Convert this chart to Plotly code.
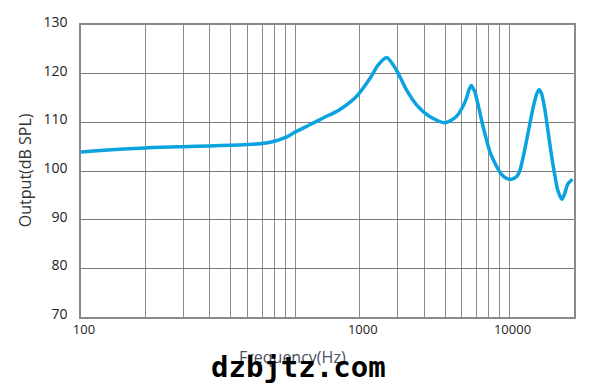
import plotly.graph_objects as go

# Frequency response
freq_hz = [100, 123, 200, 300, 400, 500, 600, 700, 800, 900, 1000, 1170, 1350,
           1610, 1930, 2230, 2440, 2670, 2960, 3300, 3680, 4240, 5000, 5650,
           6070, 6300, 6470, 6640, 6760, 6900, 7010, 7260, 7520, 7800, 8080,
           8380, 8690, 9170, 9670, 10200, 10770, 11160, 11560, 11990, 12420,
           12870, 13350, 13730, 14080, 14590, 15130, 15680, 16250, 16840, 17570,
           18050, 18700, 19660]
spl_db = [103.9, 104.2, 104.75, 105.0, 105.15, 105.3, 105.45, 105.65, 106.1, 106.9,
          108.0, 109.5, 110.9, 112.6, 115.3, 119.0, 121.8, 123.3, 120.8, 116.7,
          113.6, 111.2, 109.9, 111.2, 113.3, 115.0, 116.7, 117.55, 117.0, 116.2,
          115.0, 112.2, 109.2, 106.5, 104.1, 102.4, 101.0, 99.3, 98.5, 98.3,
          98.8, 100.0, 102.7, 106.1, 109.5, 112.9, 115.65, 116.7, 116.0, 112.9,
          108.2, 103.4, 99.3, 95.9, 94.2, 95.2, 97.3, 98.3]

# Axis ticks
x_grid = [100, 200, 300, 400, 500, 600, 700, 800, 900,
          1000, 2000, 3000, 4000, 5000, 6000, 7000, 8000, 9000, 10000, 20000]
x_label_vals = [100, 2000, 10000]
x_label_text = ["100", "1000", "10000"]
y_ticks = [70, 80, 90, 100, 110, 120, 130]

fig = go.Figure()
fig.add_trace(go.Scatter(
    x=freq_hz, y=spl_db, mode="lines",
    line=dict(color="#0AA3E0", width=3.5, shape="spline", smoothing=0.7),
    hoverinfo="skip", showlegend=False,
))

fig.update_layout(
    width=601, height=389,
    margin=dict(l=81, r=27, t=23, b=72),
    paper_bgcolor="white", plot_bgcolor="white",
    font=dict(family="Open Sans", color="#222222"),
    xaxis=dict(
        type="log", range=[2, 4.30103],
        tickmode="array", tickvals=x_label_vals, ticktext=x_label_text,
        showgrid=False, ticks="", ticklabelshift=3,
        tickfont=dict(size=13, color="#222222"),
        showline=True, linecolor="#8a8a8a", linewidth=1.5, mirror=True,
        zeroline=False,
        minor=dict(tickmode="array", tickvals=x_grid, showgrid=True,
                   gridcolor="#8c8c8c", gridwidth=1, ticks=""),
    ),
    yaxis=dict(
        range=[70, 130], tickmode="array", tickvals=y_ticks,
        showgrid=True, gridcolor="#7a7a7a", gridwidth=1,
        ticks="", ticklabelstandoff=9, ticklabelshift=-3,
        tickfont=dict(size=14, color="#222222"),
        showline=True, linecolor="#8a8a8a", linewidth=1.5, mirror=True,
        zeroline=False,
    ),
)

fig.add_annotation(
    text="Output(dB SPL)", xref="paper", yref="paper",
    x=-0.1135, y=0.503, textangle=-90, showarrow=False,
    xanchor="center", yanchor="middle",
    font=dict(family="Open Sans", size=16, color="#333333"),
)
fig.add_annotation(
    text="Frequency(Hz)", xref="paper", yref="paper",
    x=0.43, y=-0.136, showarrow=False,
    xanchor="center", yanchor="middle",
    font=dict(family="Open Sans", size=16, color="#4a5060"),
)
fig.add_annotation(
    text="<b>dzbjtz.com</b>", xref="paper", yref="paper",
    x=0.442, y=-0.17, showarrow=False,
    xanchor="center", yanchor="middle",
    font=dict(family="DejaVu Sans Mono", size=29, color="#000000"),
)

fig.write_html("out.html")
